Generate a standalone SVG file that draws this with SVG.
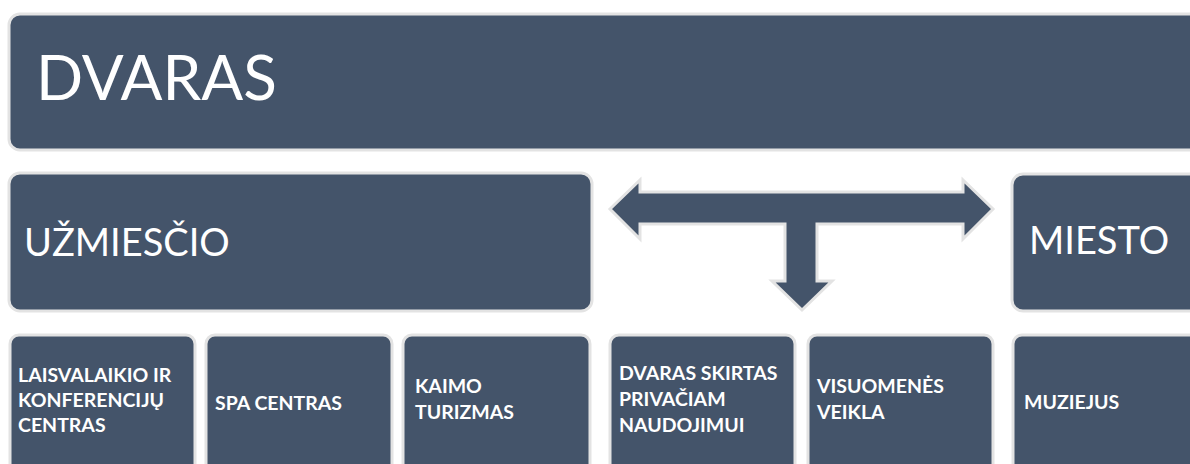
<svg xmlns="http://www.w3.org/2000/svg" width="1190" height="464" viewBox="0 0 1190 464">
<style>
.box{fill:#44546A;stroke:#e3e3e3;stroke-width:3}
.big{font-family:Lato,"Open Sans",sans-serif;fill:#fff}
.sm{font-family:Lato,"Open Sans",sans-serif;font-weight:bold;font-size:19.5px;fill:#fff}
</style>
<rect width="1190" height="464" fill="#fff"/>
<g id="dvaras">
<rect class="box" x="9" y="14" width="1200" height="136" rx="11"/>
<text class="big" x="36" y="100" font-size="62">DVARAS</text>
</g>
<g id="uzmiescio">
<rect class="box" x="9" y="173" width="583" height="138" rx="11"/>
<text class="big" x="24" y="256" font-size="38">UŽMIESČIO</text>
</g>
<g id="miesto">
<rect class="box" x="1012" y="174" width="200" height="137" rx="11"/>
<text class="big" x="1029" y="254" font-size="38">MIESTO</text>
</g>
<g id="connectors">
<path class="box" stroke-linejoin="miter" d="M610,209 L640,180 L640,192 L963,192 L963,180 L993,209 L963,239 L963,224 L817,224 L817,281 L832,281 L802,310 L772,281 L785,281 L785,224 L640,224 L640,239 Z"/>
</g>
<g id="n1">
<rect class="box" x="10" y="335" width="185" height="140" rx="9"/>
<text class="sm" x="18" y="382">LAISVALAIKIO IR</text>
<text class="sm" x="18" y="407">KONFERENCIJŲ</text>
<text class="sm" x="18" y="432">CENTRAS</text>
</g>
<g id="n2">
<rect class="box" x="206" y="335" width="186" height="140" rx="9"/>
<text class="sm" x="215" y="410">SPA CENTRAS</text>
</g>
<g id="n3">
<rect class="box" x="403" y="335" width="187" height="140" rx="9"/>
<text class="sm" x="415" y="393">KAIMO</text>
<text class="sm" x="415" y="419">TURIZMAS</text>
</g>
<g id="n4">
<rect class="box" x="610" y="335" width="185" height="140" rx="9"/>
<text class="sm" x="619" y="380">DVARAS SKIRTAS</text>
<text class="sm" x="619" y="406">PRIVAČIAM</text>
<text class="sm" x="619" y="432">NAUDOJIMUI</text>
</g>
<g id="n5">
<rect class="box" x="808" y="335" width="185" height="140" rx="9"/>
<text class="sm" x="817" y="393">VISUOMENĖS</text>
<text class="sm" x="817" y="419">VEIKLA</text>
</g>
<g id="n6">
<rect class="box" x="1013" y="335" width="200" height="140" rx="9"/>
<text class="sm" x="1024" y="409">MUZIEJUS</text>
</g>
</svg>
